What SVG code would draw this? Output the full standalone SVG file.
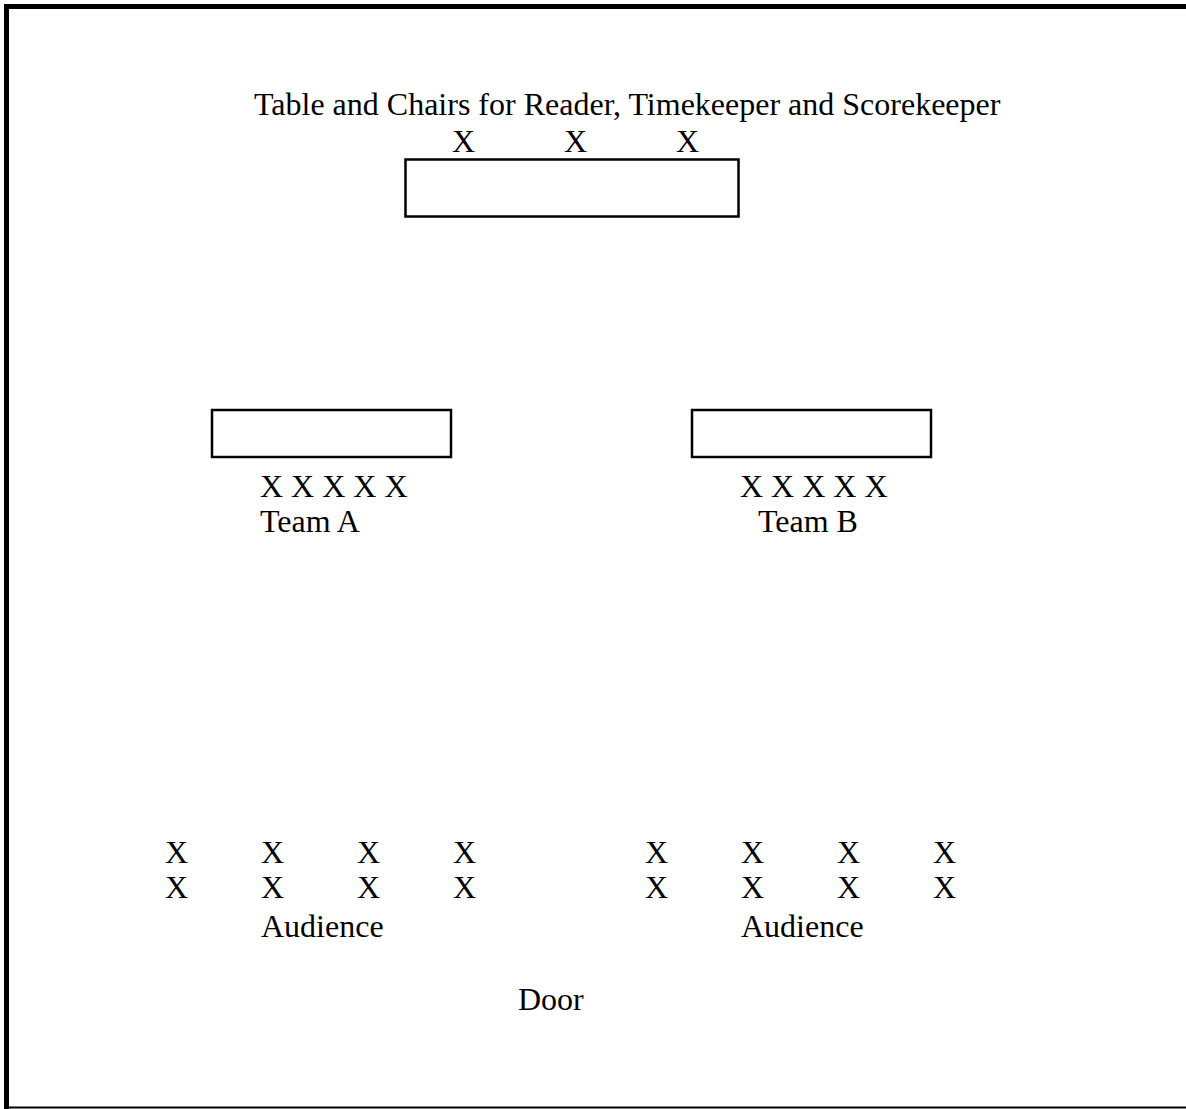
<svg xmlns="http://www.w3.org/2000/svg" width="1186" height="1109" viewBox="0 0 1186 1109">
  <style>
    text { font-family: "Liberation Serif", "Times New Roman", serif; font-size: 32px; fill: #000; }
    .tbl { fill: #fff; stroke: #000; stroke-width: 2.5; }
    .frame { fill: none; stroke: #000; }
  </style>
  <rect width="1186" height="1109" fill="#fff"/>
  <g id="room">
    <line class="frame" x1="4" y1="6.5" x2="1186" y2="6.5" stroke-width="5"/>
    <line class="frame" x1="6.5" y1="4" x2="6.5" y2="1109" stroke-width="5"/>
    <line class="frame" x1="4" y1="1107.5" x2="1186" y2="1107.5" stroke-width="2"/>
  </g>
  <g id="officials">
    <text x="254" y="115">Table and Chairs for Reader, Timekeeper and Scorekeeper</text>
    <text x="452" y="152">X</text>
    <text x="564" y="152">X</text>
    <text x="676" y="152">X</text>
    <rect class="tbl" x="405.5" y="159.5" width="333" height="57"/>
  </g>
  <g id="team-a">
    <rect class="tbl" x="212" y="410" width="239" height="47"/>
    <text x="260" y="497">X X X X X</text>
    <text x="260" y="532">Team A</text>
  </g>
  <g id="team-b">
    <rect class="tbl" x="692" y="410" width="239" height="47"/>
    <text x="740" y="497">X X X X X</text>
    <text x="758" y="532">Team B</text>
  </g>
  <g id="audience-left">
    <text x="165" y="863">X</text>
    <text x="261" y="863">X</text>
    <text x="357" y="863">X</text>
    <text x="453" y="863">X</text>
    <text x="165" y="898">X</text>
    <text x="261" y="898">X</text>
    <text x="357" y="898">X</text>
    <text x="453" y="898">X</text>
    <text x="261" y="937">Audience</text>
  </g>
  <g id="audience-right">
    <text x="645" y="863">X</text>
    <text x="741" y="863">X</text>
    <text x="837" y="863">X</text>
    <text x="933" y="863">X</text>
    <text x="645" y="898">X</text>
    <text x="741" y="898">X</text>
    <text x="837" y="898">X</text>
    <text x="933" y="898">X</text>
    <text x="741" y="937">Audience</text>
  </g>
  <g id="door">
    <text x="518" y="1010">Door</text>
  </g>
  <g id="connectors"></g>
</svg>
